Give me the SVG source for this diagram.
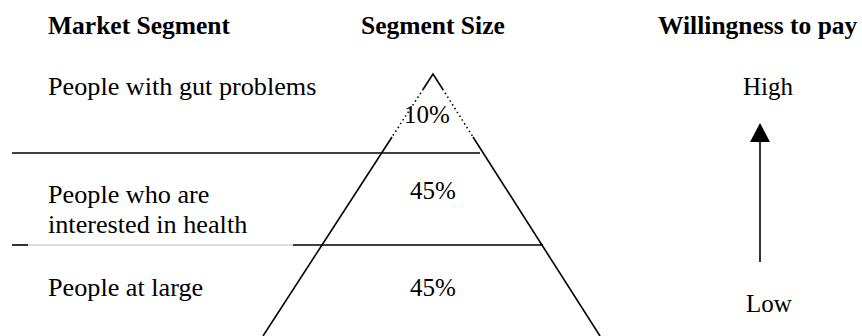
<svg xmlns="http://www.w3.org/2000/svg" width="862" height="336" viewBox="0 0 862 336">
<defs>
<style>
.h{font-family:"Liberation Serif","Times New Roman",serif;font-weight:bold;font-size:25.5px;fill:#000}
.t{font-family:"Liberation Serif","Times New Roman",serif;font-size:25px;fill:#000}
.l{font-family:"Liberation Serif","Times New Roman",serif;font-size:26.2px;fill:#000}
.ln{stroke:#000;stroke-width:1.6;fill:none}
.dot{stroke:#000;stroke-width:1.6;fill:none;stroke-dasharray:1.5 3}
</style>
</defs>
<rect width="862" height="336" fill="#fff"/>
<g id="headers">
<text class="h" x="48" y="34">Market Segment</text>
<text class="h" x="361" y="34">Segment Size</text>
<text class="h" x="658" y="34">Willingness to pay</text>
</g>
<g id="pyramid">
<path class="ln" d="M423.3,89 L433,74 L442.6,89"/>
<path class="dot" d="M423.3,89 L392,137"/>
<path class="dot" d="M442.6,89 L473,137"/>
<path class="ln" d="M392,137 L263,336"/>
<path class="ln" d="M473,137 L600,336"/>
</g>
<g id="dividers">
<line class="ln" x1="12" y1="153" x2="480" y2="153"/>
<line class="ln" x1="12" y1="245" x2="28" y2="245"/>
<line x1="28" y1="245" x2="293" y2="245" stroke="#bbb" stroke-width="1"/>
<line class="ln" x1="293" y1="245" x2="543" y2="245"/>
</g>
<g id="segment-top">
<text class="l" x="48" y="95">People with gut problems</text>
<text class="t" x="404" y="123">10%</text>
</g>
<g id="segment-middle">
<text class="l" x="48" y="203">People who are</text>
<text class="l" x="48" y="233">interested in health</text>
<text class="t" x="410" y="199">45%</text>
</g>
<g id="segment-bottom">
<text class="l" x="48" y="296">People at large</text>
<text class="t" x="410" y="296">45%</text>
</g>
<g id="willingness">
<text class="t" x="743" y="95">High</text>
<text class="t" x="746" y="312">Low</text>
</g>
<g id="connectors">
<line x1="760" y1="262" x2="760" y2="142" stroke="#000" stroke-width="1.6"/>
<path d="M750,142 L760,123 L770,142 Z" fill="#000"/>
</g>
</svg>
